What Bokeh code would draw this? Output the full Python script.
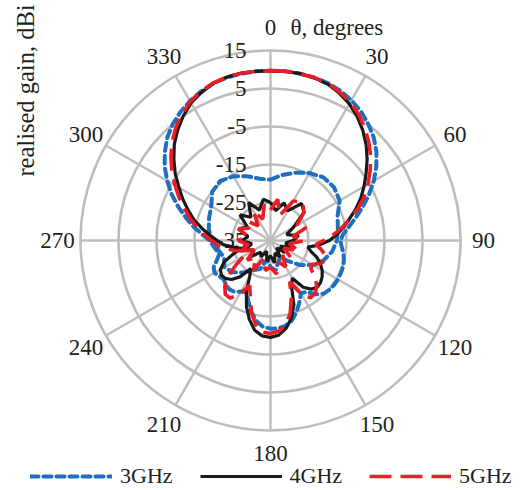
import numpy as np
from bokeh.plotting import figure
from bokeh.models import Range1d, Legend, LegendItem
from bokeh.core.properties import value
from bokeh.embed import file_html
from bokeh.resources import INLINE

# ---------------- data ----------------
theta = list(range(0, 360, 5))  # degrees, clockwise from top

gain_3ghz = [9.7, 9.7, 9.6, 9.4, 9.1, 8.5, 7.6, 6.5, 5.0, 3.4, 1.4, -1.0,
             -3.6, -6.4, -9.2, -11.8, -14.0, -15.8, -16.6, -16.2, -15.5, -15.0, -14.7, -14.6,
             -14.5, -14.6, -14.8, -15.2, -16.5, -18.5, -19.0, -17.0, -15.0, -13.2, -12.2, -11.8,
             -11.8, -12.2, -13.5, -15.5, -18.0, -20.0, -19.5, -18.5, -18.2, -18.4, -19.0, -18.6,
             -18.0, -18.5, -20.0, -21.0, -20.5, -19.8, -19.0, -17.0, -14.5, -12.0, -9.2, -6.3,
             -3.6, -1.0, 1.3, 3.4, 5.0, 6.3, 7.4, 8.3, 9.0, 9.4, 9.6, 9.7]

gain_4ghz = [9.7, 9.7, 9.6, 9.3, 8.8, 7.8, 6.5, 4.8, 2.8, 0.6, -1.8, -4.3,
             -6.6, -8.8, -11.2, -13.6, -15.6, -17.5, -19.5, -22.0, -25.0, -24.0, -22.0, -20.5,
             -19.3, -18.4, -17.8, -17.6, -18.3, -20.0, -23.5, -22.0, -17.0, -13.8, -11.5, -10.0,
             -9.5, -9.8, -11.0, -13.5, -16.5, -20.0, -24.0, -26.0, -22.5, -20.5, -19.5, -19.2,
             -19.8, -21.5, -24.5, -27.0, -25.0, -22.5, -21.0, -19.0, -16.7, -14.2, -12.0, -9.6,
             -7.2, -4.4, -1.8, 0.8, 3.0, 5.0, 6.8, 8.0, 9.0, 9.5, 9.7, 9.7]

gain_5ghz = [9.7, 9.7, 9.6, 9.4, 9.0, 8.1, 7.0, 5.5, 3.6, 1.6, -0.6, -3.0,
             -5.4, -7.8, -10.5, -13.5, -16.0, -18.5, -21.0, -23.0, -21.5, -20.0, -19.7, -20.5,
             -22.5, -22.0, -19.5, -17.8, -16.8, -16.6, -18.5, -23.0, -19.0, -15.0, -12.5, -11.0,
             -10.5, -10.8, -12.5, -15.5, -19.5, -22.0, -18.5, -16.5, -16.5, -18.0, -20.5, -24.0,
             -27.0, -29.0, -27.0, -25.0, -23.0, -21.0, -19.5, -17.5, -15.5, -13.2, -11.0, -8.5,
             -6.0, -3.3, -0.8, 1.6, 3.8, 5.6, 7.2, 8.3, 9.1, 9.5, 9.7, 9.7]

theta_x = list(range(0, 360, 10))
cross_3ghz = [-19.0, -17.5, -16.0, -14.5, -13.3, -13.2, -14.0, -16.2, -17.0, -17.5, -18.5, -20.0,
              -22.0, -25.0, -28.0, -30.0, -29.0, -27.0, -28.0, -30.0, -27.0, -26.0, -24.0, -22.0,
              -21.0, -22.0, -21.0, -19.7, -18.5, -17.8, -17.0, -15.0, -14.5, -15.5, -17.0, -18.5]
cross_4ghz = [-25.0, -27.0, -24.5, -26.0, -22.3, -23.5, -28.0, -30.5, -27.5, -29.0, -31.0, -29.5,
              -32.0, -30.0, -32.5, -30.0, -31.5, -29.0, -31.0, -29.5, -32.0, -30.0, -31.0, -28.5,
              -30.0, -28.0, -30.0, -27.5, -29.0, -26.0, -28.0, -24.5, -27.0, -23.5, -26.5, -24.0]
cross_5ghz = [-27.0, -24.0, -28.0, -23.0, -21.8, -23.5, -27.0, -25.0, -29.0, -26.0, -30.0, -27.0,
              -31.0, -28.0, -30.0, -27.0, -29.0, -26.0, -28.0, -27.0, -30.0, -26.0, -29.0, -27.0,
              -30.0, -27.0, -29.0, -26.5, -29.0, -26.0, -28.5, -27.0, -30.0, -26.0, -29.0, -25.5]

ring_values = [15, 5, -5, -15, -25, -35]
ring_labels = ["15", "5", "-5", "-15", "-25", "-35"]
angle_ticks = list(range(0, 360, 30))
angle_labels = [str(a) for a in angle_ticks]
series_labels = ["3GHz", "4GHz", "5GHz"]

# ---------------- geometry / styling ----------------
R_MIN, R_MAX = -35, 15
R_PX = 190.0
FONT = value("Liberation Serif")
FSIZE = value("23px")
GRID = "#BDBDBD"


def rad(db):
    return np.clip((np.asarray(db, dtype=float) - R_MIN) / (R_MAX - R_MIN) * R_PX, 0, None)


def polar_xy(th, db, close=True):
    th = np.radians(np.asarray(th, dtype=float))
    r = rad(db)
    x = r * np.sin(th)
    y = r * np.cos(th)
    if close:
        x = np.append(x, x[0])
        y = np.append(y, y[0])
    return x, y


p = figure(frame_width=527, frame_height=490,
           x_range=Range1d(-270, 257), y_range=Range1d(-250, 240),
           output_backend="svg", toolbar_location=None,
           x_axis_type=None, y_axis_type=None, min_border=0)
p.grid.visible = False
p.outline_line_color = None
p.background_fill_color = "white"
p.border_fill_color = "white"

# grid rings
ring_r = rad(ring_values[:-1])
p.circle(x=np.zeros(len(ring_r)), y=np.zeros(len(ring_r)), radius=ring_r,
         fill_color=None, line_color=GRID, line_width=2.6)
# spokes
ang = np.radians(angle_ticks)
p.segment(x0=np.zeros(len(ang)), y0=np.zeros(len(ang)),
          x1=R_PX * np.sin(ang), y1=R_PX * np.cos(ang),
          line_color=GRID, line_width=2.4)

# angle labels
LR = 213
p.text(x=LR * np.sin(ang), y=LR * np.cos(ang), text=angle_labels,
       text_font=FONT, text_font_size=FSIZE, text_color="#231F20",
       text_align="center", text_baseline="middle")

# radial labels
p.text(x=[-24] * len(ring_values), y=list(rad(ring_values)), text=ring_labels,
       text_font=FONT, text_font_size=FSIZE, text_color="#231F20",
       text_align="right", text_baseline="middle")

# titles
p.text(x=[20], y=[213], text=["θ, degrees"], text_font=FONT, text_font_size=FSIZE,
       text_color="#231F20", text_align="left", text_baseline="middle")
p.text(x=[-245], y=[150], text=["realised gain, dBi"], text_font=FONT,
       text_font_size=value("24.5px"),
       text_color="#231F20", text_align="center", text_baseline="middle", angle=np.pi / 2)

styles = {
    "3GHz": dict(line_color="#1F6FBF", line_width=4, line_dash="8 5", line_cap="round"),
    "4GHz": dict(line_color="#1A1A1A", line_width=3.2),
    "5GHz": dict(line_color="#EC1C24", line_width=3.6, line_dash="22 9"),
}

renderers = {}
for lab, co, cx in zip(series_labels, [gain_3ghz, gain_4ghz, gain_5ghz],
                       [cross_3ghz, cross_4ghz, cross_5ghz]):
    xx, yy = polar_xy(theta_x, cx)
    p.line(xx, yy, **styles[lab])
    xx, yy = polar_xy(theta, co)
    renderers[lab] = p.line(xx, yy, **styles[lab])

legend = Legend(items=[LegendItem(label=l, renderers=[renderers[l]]) for l in series_labels],
                orientation="horizontal", location=(30, 1),
                glyph_width=82, glyph_height=14, label_height=14, label_standoff=8,
                spacing=27, padding=0, margin=0,
                border_line_color=None, background_fill_alpha=0,
                label_text_font="Liberation Serif", label_text_font_size="22px",
                label_text_color="#231F20", label_text_baseline="middle")
p.add_layout(legend)

open("out.html", "w").write(file_html(p, INLINE))
